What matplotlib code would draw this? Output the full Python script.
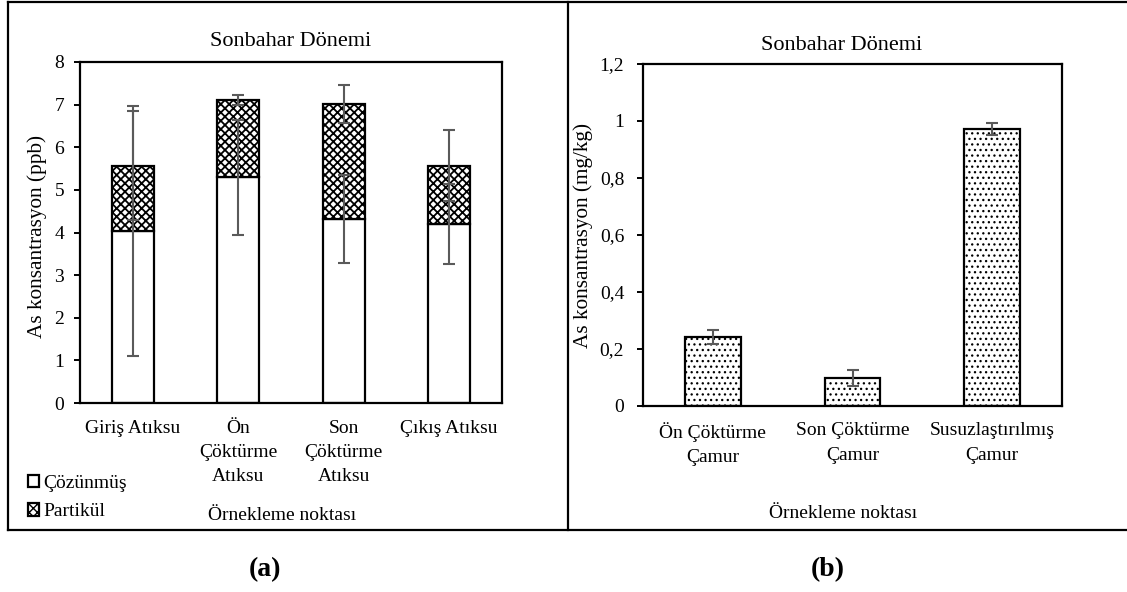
import matplotlib
matplotlib.use("Agg")
import matplotlib.pyplot as plt
from matplotlib.lines import Line2D

plt.rcParams['font.family'] = ['Liberation Serif', 'DejaVu Serif']
plt.rcParams['font.size'] = 14

# ---- data: (a) wastewater, stacked dissolved + particulate ----
sites_a = ["Giriş Atıksu", "Ön\nÇöktürme\nAtıksu", "Son\nÇöktürme\nAtıksu", "Çıkış Atıksu"]
cozunmus = [4.04, 5.30, 4.32, 4.20]
partikul = [1.53, 1.81, 2.70, 1.37]
err_cozunmus = [2.93, 1.35, 1.03, 0.94]
err_partikul = [1.27, 0.12, 0.44, 0.83]
yticks_a = [0, 1, 2, 3, 4, 5, 6, 7, 8]
ytick_labels_a = ["0", "1", "2", "3", "4", "5", "6", "7", "8"]

# ---- data: (b) sludge ----
sites_b = ["Ön Çöktürme\nÇamur", "Son Çöktürme\nÇamur", "Susuzlaştırılmış\nÇamur"]
camur = [0.242, 0.098, 0.972]
err_camur = [0.024, 0.028, 0.021]
yticks_b = [0, 0.2, 0.4, 0.6, 0.8, 1.0, 1.2]
ytick_labels_b = ["0", "0,2", "0,4", "0,6", "0,8", "1", "1,2"]

W, H = 1127, 592
fig = plt.figure(figsize=(W / 100, H / 100), dpi=100)

def fx(px):
    return px / W

def fy(py):
    return 1 - py / H

ERR_COLOR = "#5a5a5a"
BAR_W = 0.40

def style_axes(ax, ypad):
    for s in ax.spines.values():
        s.set_linewidth(1.6)
        s.set_color("black")
    ax.tick_params(axis='y', direction='out', length=4.5, width=1.4, pad=ypad, labelsize=14)
    ax.tick_params(axis='x', length=0, pad=12, labelsize=14)

# ---------------- (a) ----------------
axA = fig.add_axes([fx(80), fy(403), fx(422), (403 - 62) / H])
xa = list(range(len(sites_a)))
with plt.rc_context({'hatch.linewidth': 1.3, 'hatch.color': '#1a1a1a'}):
    b1 = axA.bar(xa, cozunmus, width=BAR_W, color='white', edgecolor='black',
                 linewidth=1.6, label='Çözünmüş', zorder=2)
    b2 = axA.bar(xa, partikul, width=BAR_W, bottom=cozunmus, color='white',
                 edgecolor='black', linewidth=1.6, hatch='xxxx', label='Partikül', zorder=2)
tops = [c + p for c, p in zip(cozunmus, partikul)]
axA.errorbar(xa, cozunmus, yerr=err_cozunmus, fmt='none', ecolor=ERR_COLOR,
             elinewidth=1.5, capsize=4.5, capthick=1.5, zorder=3)
axA.errorbar(xa, tops, yerr=err_partikul, fmt='none', ecolor=ERR_COLOR,
             elinewidth=1.5, capsize=4.5, capthick=1.5, zorder=3)
axA.set_xlim(-0.5, len(sites_a) - 0.5)
axA.set_ylim(0, 8)
axA.set_yticks(yticks_a)
axA.set_yticklabels(ytick_labels_a)
axA.set_xticks(xa)
axA.set_xticklabels(sites_a, linespacing=1.55, va='top')
style_axes(axA, 7)
fig.text(fx(37), fy(236.5), "As konsantrasyon (ppb)", rotation=90, ha='center', va='center', fontsize=15.3)
fig.text(fx(291), fy(42), "Sonbahar Dönemi", ha='center', va='center', fontsize=16)
fig.text(fx(282), fy(515), "Örnekleme noktası", ha='center', va='center', fontsize=14)

fig.legend(handles=[b1, b2], labels=['Çözünmüş', 'Partikül'],
           loc='upper left', bbox_to_anchor=(fx(14), fy(461)), frameon=False,
           handlelength=0.6, handleheight=0.6, handletextpad=0.2,
           labelspacing=0.6, fontsize=14, borderpad=0.2)

# ---------------- (b) ----------------
axB = fig.add_axes([fx(643), fy(405.7), fx(419), (405.7 - 64) / H])
xb = list(range(len(sites_b)))
with plt.rc_context({'hatch.linewidth': 0.9, 'hatch.color': '#8a8a8a'}):
    axB.bar(xb, camur, width=BAR_W, color='white', edgecolor='black',
            linewidth=1.6, hatch='...', zorder=2)
axB.errorbar(xb, camur, yerr=err_camur, fmt='none', ecolor=ERR_COLOR,
             elinewidth=1.5, capsize=4.5, capthick=1.5, zorder=3)
axB.set_xlim(-0.5, len(sites_b) - 0.5)
axB.set_ylim(0, 1.2)
axB.set_yticks(yticks_b)
axB.set_yticklabels(ytick_labels_b)
axB.set_xticks(xb)
axB.set_xticklabels(sites_b, linespacing=1.55, va='top')
style_axes(axB, 9)
fig.text(fx(583), fy(235), "As konsantrasyon (mg/kg)", rotation=90, ha='center', va='center', fontsize=15.3)
fig.text(fx(841.5), fy(45), "Sonbahar Dönemi", ha='center', va='center', fontsize=16)
fig.text(fx(843), fy(514), "Örnekleme noktası", ha='center', va='center', fontsize=14)

# ---- panel frames ----
frame_kw = dict(color='black', linewidth=1.6, transform=fig.transFigure, clip_on=False)
fig.add_artist(Line2D([fx(8), fx(1130)], [fy(2), fy(2)], **frame_kw))
fig.add_artist(Line2D([fx(8), fx(1130)], [fy(530), fy(530)], **frame_kw))
fig.add_artist(Line2D([fx(8), fx(8)], [fy(2), fy(530)], **frame_kw))
fig.add_artist(Line2D([fx(568), fx(568)], [fy(2), fy(530)], **frame_kw))

# ---- panel letters ----
fig.text(fx(265), fy(570), "(a)", ha='center', va='center', fontsize=20, fontweight='bold')
fig.text(fx(827.5), fy(570), "(b)", ha='center', va='center', fontsize=20, fontweight='bold')

fig.savefig("out.png", dpi=100)
